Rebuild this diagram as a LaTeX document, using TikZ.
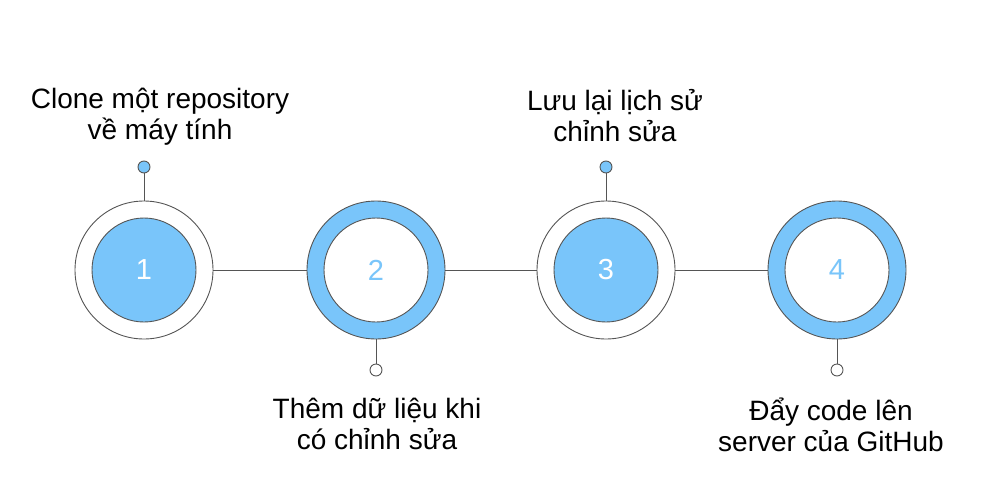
\documentclass[tikz,border=0pt]{standalone}
\usepackage{fontspec}
\setmainfont{Liberation Sans}
\usetikzlibrary{positioning}
\definecolor{stepblue}{RGB}{121,197,250}
\definecolor{rimgray}{RGB}{85,85,85}

\begin{document}
\begin{tikzpicture}[x=1pt,y=-1pt,
  ring/.style={circle,draw=rimgray,line width=0.9pt,fill=#1,minimum size=138pt,inner sep=0pt},
  core/.style={circle,draw=rimgray,line width=0.9pt,fill=#1,minimum size=104pt,inner sep=0pt,font=\fontsize{29}{32}\selectfont},
  pin/.style={circle,draw=rimgray,line width=0.9pt,fill=#1,minimum size=12pt,inner sep=0pt},
  link/.style={draw=rimgray,line width=0.9pt},
  caption/.style={align=center,inner sep=0pt,font=\fontsize{28}{31}\selectfont},
]
\useasboundingbox (0,0) rectangle (982,498);

% ==== STEP CIRCLES ====
\node[ring=white] (ring1) at (144,270) {};
\node[core=stepblue,text=white] (core1) at (144,270) {1};
\node[ring=stepblue] (ring2) at (376,270) {};
\node[core=white,text=stepblue] (core2) at (376,270) {2};
\node[ring=white] (ring3) at (606,270) {};
\node[core=stepblue,text=white] (core3) at (606,270) {3};
\node[ring=stepblue] (ring4) at (837,270) {};
\node[core=white,text=stepblue] (core4) at (837,270) {4};

% links between steps
\draw[link] (ring1) -- (ring2);
\draw[link] (ring2) -- (ring3);
\draw[link] (ring3) -- (ring4);

% ==== PINS ====
\node[pin=stepblue] (pin1) at (144,167) {};
\node[pin=white] (pin2) at (376,370) {};
\node[pin=stepblue] (pin3) at (606,167) {};
\node[pin=white] (pin4) at (837,370) {};

\draw[link] (pin1) -- (ring1);
\draw[link] (pin2) -- (ring2);
\draw[link] (pin3) -- (ring3);
\draw[link] (pin4) -- (ring4);

% ==== CAPTIONS ====
\node[caption] (cap1) at (160,117) {Clone một repository\\về máy tính};
\node[caption] (cap2) at (377,424) {Thêm dữ liệu khi\\có chỉnh sửa};
\node[caption] (cap3) at (615,116) {Lưu lại lịch sử\\chỉnh sửa};
\node[caption] (cap4) at (831,425) {Đẩy code lên\\server của GitHub};

\end{tikzpicture}
\end{document}
